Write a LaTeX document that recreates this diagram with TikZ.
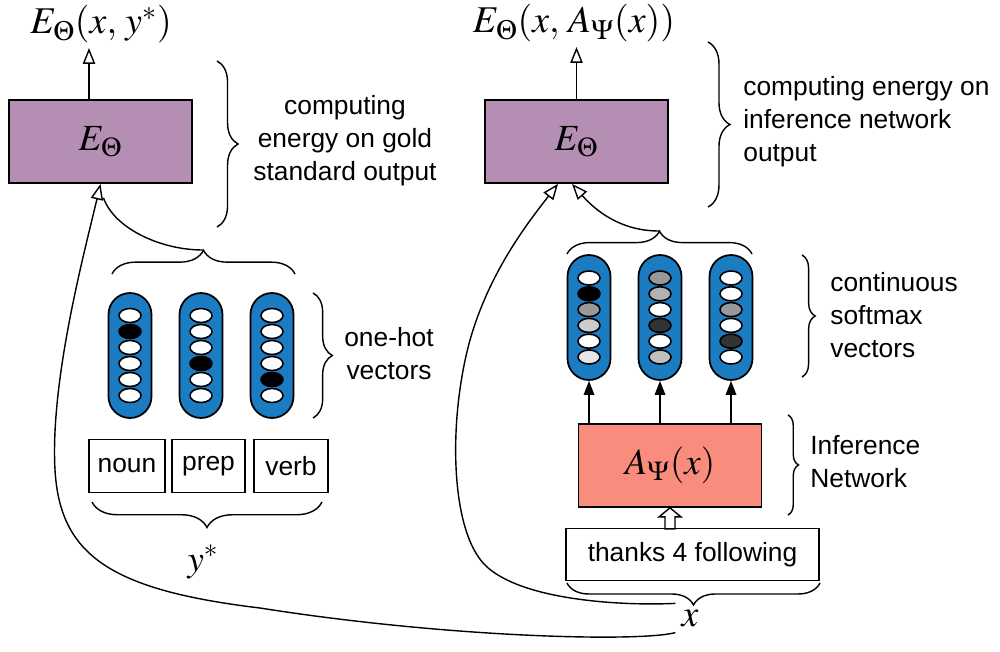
\documentclass[tikz,border=0pt]{standalone}
\usepackage{mathptmx}
\usepackage{fontspec}
\setmainfont{Liberation Sans}
\usetikzlibrary{arrows.meta,shapes.geometric,decorations.pathreplacing,calc}

\definecolor{energy}{HTML}{B48FB3}
\definecolor{infnet}{HTML}{FA8C7E}
\definecolor{vecblue}{HTML}{1B7CC1}

\newcommand\labfont{\fontsize{21}{24}\selectfont}
\newcommand\outfont{\fontsize{21.5}{26}\selectfont}

\tikzset{
  box/.style={draw, line width=1pt, minimum width=3.66cm, minimum height=1.66cm, inner sep=0pt},
  wordbox/.style={draw, line width=0.8pt, minimum height=1.05cm, inner sep=0pt},
  pill/.style={draw, line width=1pt, fill=vecblue, minimum width=0.86cm, minimum height=2.5cm, rounded corners=0.43cm},
  cell/.style={ellipse, draw, line width=0.9pt, minimum width=0.44cm, minimum height=0.28cm, inner sep=0pt},
  brc/.style={decorate, decoration={brace, amplitude=#1}, line width=0.8pt},
  lbl/.style={align=left, inner sep=0pt},
  hollowarr/.style={-{Triangle[open, length=9pt, width=7pt]}, line width=0.8pt},
  fillarr/.style={-{Triangle[length=8pt, width=6pt]}, line width=0.9pt}
}

\begin{document}
\begin{tikzpicture}[x=0.02cm, y=-0.02cm, font=\fontsize{15}{18.7}\selectfont]
\useasboundingbox (0,0) rectangle (1000,652);

% energy networks
\node[box, fill=energy] (eleft) at (100.5,141.5) {\labfont$E_\Theta$};
\node[box, fill=energy] (eright) at (576.5,141.5) {\labfont$E_\Theta$};
\node[anchor=base, inner sep=1pt] (eleftout) at (101,34) {\outfont$E_\Theta(x,\,y^*)$};
\node[anchor=base, inner sep=1pt] (erightout) at (574,33) {\outfont$E_\Theta(x,\,A_\Psi(x))$};
\draw[hollowarr] ([xshift=-0.23cm]eleft.north) -- ([xshift=-0.23cm,yshift=-0.05cm]eleft.north |- eleftout.south);
\draw[hollowarr] (eright.north) -- ([yshift=-0.05cm]eright.north |- erightout.south);

% one-hot vectors
\foreach \i/\px/\cols in {1/130/{white,black,white,white,white,white},
                          2/201/{white,white,white,black,white,white},
                          3/272/{white,white,white,white,black,white}} {
  \node[pill] (oh\i) at (\px,355.5) {};
  \foreach \c [count=\k] in \cols
    \node[cell, fill=\c] (oh\i-\k) at (\px,{355.5+(\k-3.5)*16}) {};
}

% softmax vectors
\foreach \i/\px/\cols in {1/589/{white,black,black!40,black!20,white,black!10},
                          2/660/{black!40,black!30,white,black!80,white,black!25},
                          3/731/{white,white,black!40,white,black!80,white}} {
  \node[pill] (sv\i) at (\px,317.5) {};
  \foreach \c [count=\k] in \cols
    \node[cell, fill=\c] (sv\i-\k) at (\px,{317.5+(\k-3.5)*15.8}) {};
}

% gold words
\node[wordbox, minimum width=1.52cm] (noun) at (127,466) {noun};
\node[wordbox, minimum width=1.46cm] (prep) at (208.5,466) {prep};
\node[wordbox, minimum width=1.48cm] (verb) at (291,466) {verb};

% inference network
\node[box, fill=infnet] (ainf) at (670,465.5) {\labfont$A_\Psi(x)$};
\node[wordbox, minimum width=5.06cm] (thanks) at (692.5,554.5) {thanks 4 following};
\foreach \i in {1,2,3}
  \draw[fillarr] (ainf.north -| sv\i.south) -- (sv\i.south);
\coordinate (fattip) at (ainf.south);
\draw[line width=0.8pt, fill=white] (fattip) -- ++(11,9) -- ++(-6,0) -- ++(0,12) -- ++(-10,0)
  -- ++(0,-12) -- ++(-6,0) -- cycle;

% braces
\draw[brc=12pt] (217,61) -- (217,227);
\draw[brc=12.5pt] (708,42) -- (708,207);
\draw[brc=11pt] (313,293) -- (313,418);
\draw[brc=7.5pt] (802,255) -- (802,377);
\draw[brc=6pt] (788,415) -- (788,515);
\draw[brc=13.5pt] (112,274) -- (295,274);
\draw[brc=13pt] (567,254) -- (752,254);
\draw[brc=14.5pt] (322,502) -- (92,502);
\draw[brc=12.5pt] (820,583) -- (567,583);
\coordinate (ohtip) at (203,250);
\coordinate (svtip) at (659,231);

% texts
\node[align=center] (goldtxt) at (345,141) {computing\\energy on gold\\standard output};
\node[lbl, anchor=west] (inftxt) at (743,122) {computing energy on\\inference network\\output};
\node[align=center] (onehottxt) at (389,354) {one-hot\\vectors};
\node[lbl, anchor=west] (softtxt) at (830,315) {continuous\\softmax\\vectors};
\node[lbl, anchor=west] (nettxt) at (810,462) {Inference\\Network};
\node (ystar) at (203,562) {\labfont$y^*$};
\node (xin) at (690,618) {\outfont$x$};

% energy inputs
\draw[line width=0.8pt] (ohtip) .. controls (160,250) and (114,228) .. ([xshift=0.06cm,yshift=-0.28cm]eleft.south);
\draw[hollowarr] (xin.south west) .. controls (640,642) and (450,638) .. (260,608)
  .. controls (110,590) and (60,555) .. (55,470) .. controls (50,380) and (85,250) .. (eleft.south);
\draw[hollowarr] (svtip) .. controls (620,231) and (595,210) .. ([xshift=-0.09cm]eright.south);
\draw[hollowarr] (xin.north west) .. controls (620,606) and (520,600) .. (485,565)
  .. controls (450,530) and (448,420) .. (470,340) .. controls (490,270) and (530,220) .. ([xshift=-0.37cm]eright.south);

\end{tikzpicture}
\end{document}
